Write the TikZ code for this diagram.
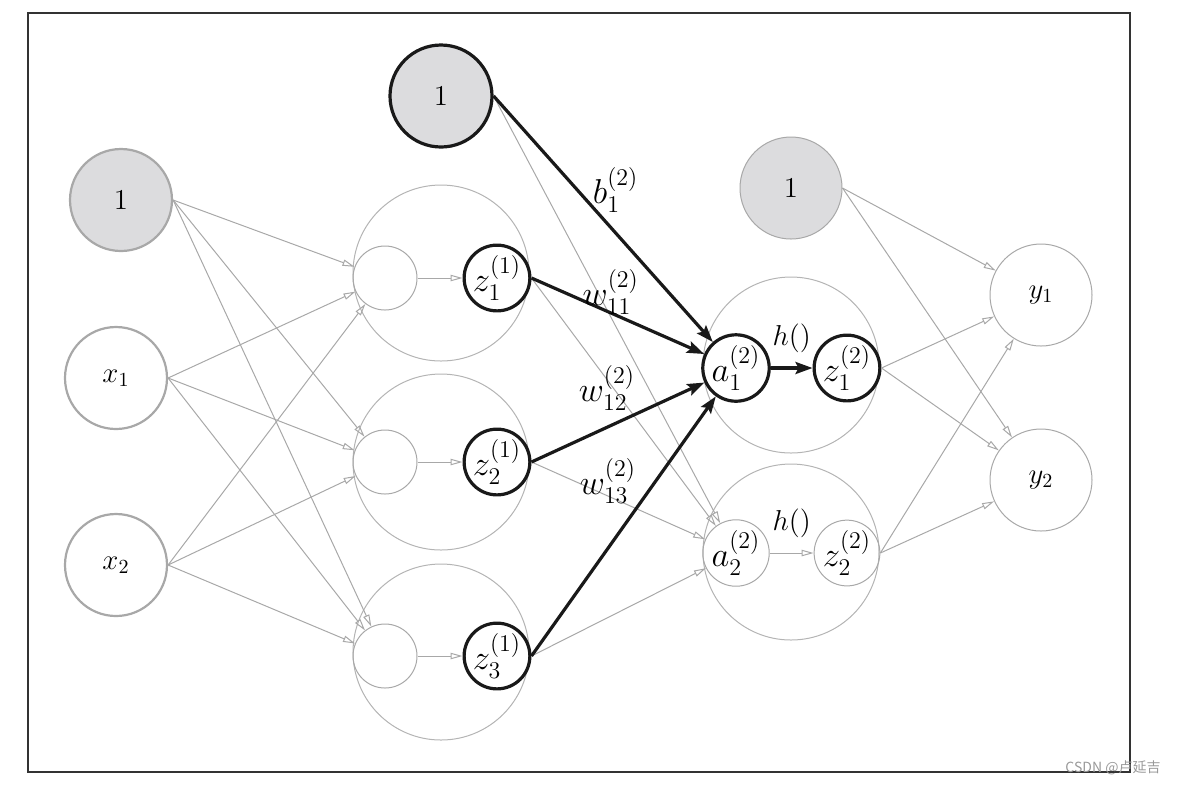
\documentclass[tikz,border=0pt]{standalone}
\usepackage{amsmath}
\usepackage{fontspec}
\newfontfamily\cjkfont{Noto Sans CJK SC}
\usetikzlibrary{arrows.meta}
\definecolor{edgegray}{HTML}{A8A8A8}
\definecolor{ringgray}{HTML}{B4B4B4}
\definecolor{biasfill}{HTML}{DCDCDE}
\tikzset{
	unit/.style={circle, draw=edgegray, line width=0.5pt, inner sep=0pt, minimum size=32pt, font=\LARGE}, % small neuron
	active/.style={unit, draw=black!90, line width=1.6pt}, % neuron on the highlighted path
	layer/.style={circle, draw=ringgray, line width=0.5pt, minimum size=88pt}, % ring round one neuron
	bigunit/.style={circle, draw=edgegray, line width=1.1pt, inner sep=0pt, minimum size=51pt, font=\Large}, % input / output neuron
	bias/.style={bigunit, fill=biasfill}, % constant 1
	conn/.style={draw=edgegray, line width=0.5pt, -{Triangle[open, length=6pt, width=3.2pt]}}, % plain weight
	strong/.style={draw=black!90, line width=1.6pt, -{Stealth[length=8.5pt, width=6pt, inset=1.5pt]}}, % highlighted weight
	wlabel/.style={font=\LARGE, inner sep=0pt}, % weight label
}
\begin{document}
\begin{tikzpicture}[x=0.5pt, y=-0.5pt]
	\useasboundingbox (0,0) rectangle (1178,784);
	\draw[black!80, line width=0.6pt] (28,13) rectangle (1130,772);

	% rings
	\node[layer] (r1) at (441,273) {};
	\node[layer] (r2) at (441,462) {};
	\node[layer] (r3) at (441,652) {};
	\node[layer] (q1) at (791,365) {};
	\node[layer] (q2) at (791,552) {};

	% input layer
	\node[bias] (one0) at (121,200) {$1$};
	\node[bigunit] (x1) at (116,378) {$x_{1}$};
	\node[bigunit] (x2) at (116,565) {$x_{2}$};

	% first layer
	\node[bias, draw=black!90, line width=1.6pt] (one1) at (441,96) {$1$};
	\node[unit] (s1) at (385,278) {};
	\node[unit] (s2) at (385,462) {};
	\node[unit] (s3) at (385,656) {};
	\node[active] (z1) at (497,278) {$z^{(1)}_1$};
	\node[active] (z2) at (497,462) {$z^{(1)}_2$};
	\node[active] (z3) at (497,656) {$z^{(1)}_3$};

	% second layer
	\node[bias, line width=0.5pt] (one2) at (791,188) {$1$};
	\node[active] (a1) at (736,368) {$a^{(2)}_1$};
	\node[active] (o1) at (847,368) {$z^{(2)}_1$};
	\node[unit] (a2) at (736,553) {$a^{(2)}_2$};
	\node[unit] (o2) at (847,553) {$z^{(2)}_2$};

	% output layer
	\node[bigunit, line width=0.5pt] (y1) at (1041,295) {$y_{1}$};
	\node[bigunit, line width=0.5pt] (y2) at (1041,480) {$y_{2}$};

	\node[text=gray!80, font=\cjkfont\fontsize{7}{7}\selectfont] (mark) at (1113,768) {CSDN @卢延吉};

	\foreach \s in {one0,x1,x2}
		\foreach \t in {s1,s2,s3}
			\draw[conn] (\s.east) -- (\t);
	\foreach \i in {1,2,3}
		\draw[conn] (s\i) -- (z\i);
	\foreach \s in {one1,z1,z2,z3}
		\draw[conn] (\s.east) -- (a2);
	\draw[conn] (a2) -- node[font=\Large, yshift=15pt] {$h()$} (o2);
	\foreach \s in {one2,o1,o2}
		\foreach \t in {y1,y2}
			\draw[conn] (\s.east) -- (\t);

	\draw[strong] (one1.east) -- node[wlabel, pos=.47, xshift=9.5pt, yshift=11pt] {$b^{(2)}_1$} (a1);
	\draw[strong] (z1.east) -- node[wlabel, pos=.43, xshift=2.5pt, yshift=9.5pt] {$w^{(2)}_{11}$} (a1);
	\draw[strong] (z2.east) -- node[wlabel, pos=.5, xshift=-5.5pt, yshift=17pt] {$w^{(2)}_{12}$} (a1);
	\draw[strong] (z3.east) -- node[wlabel, pos=.55, xshift=-12.5pt, yshift=16pt] {$w^{(2)}_{13}$} (a1);
	\draw[strong] (a1) -- node[font=\Large, yshift=15pt] {$h()$} (o1);
\end{tikzpicture}
\end{document}
